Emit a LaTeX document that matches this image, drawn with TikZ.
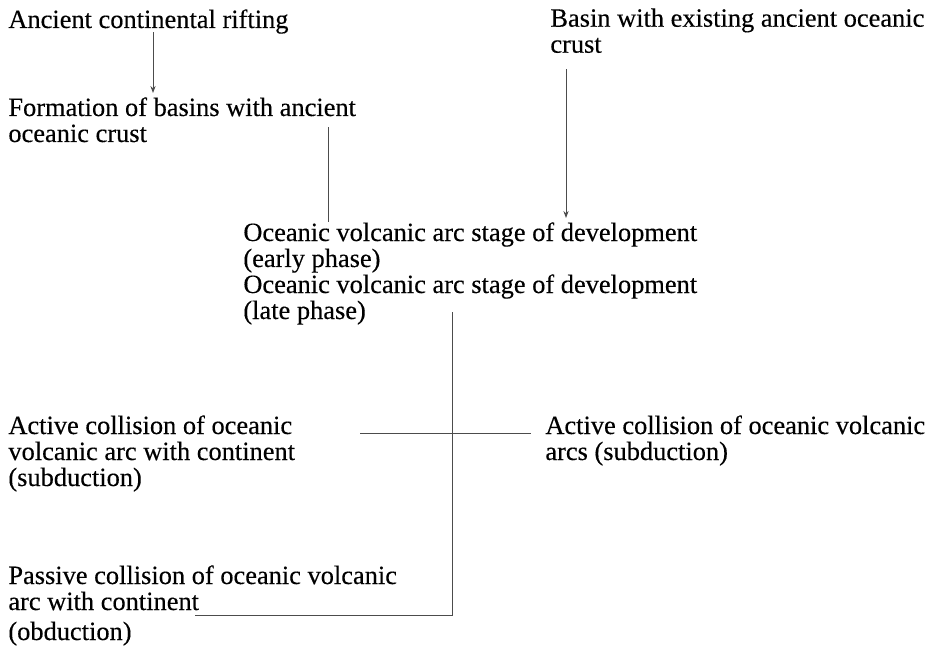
\documentclass[tikz,border=0pt]{standalone}
\usepackage{fontspec}
\setmainfont[FakeBold=0.3]{Liberation Serif}
\usetikzlibrary{arrows.meta, calc, positioning}
\tikzset{
    stage/.style={anchor=north west, inner sep=0pt, align=left, font=\fontsize{13.2pt}{13pt}\selectfont},
    link/.style={draw=black!70, line width=0.45pt},
}
\begin{document}
\begin{tikzpicture}[x=0.5pt, y=-0.5pt, >={Stealth[length=3.5pt,width=2.6pt]}]
                        \useasboundingbox (0,0) rectangle (942,655);

                        \node[stage] (rift) at (8,9) {Ancient continental rifting};
                        \node[stage] (formation) at (8,97) {Formation of basins with ancient\\oceanic crust};
                        \node[stage] (basin) at (550,8) {Basin with existing ancient oceanic\\crust};
                        \node[stage] (early) at (243,222) {Oceanic volcanic arc stage of development\\(early phase)};
                        \node[stage] (late) at (243,274) {Oceanic volcanic arc stage of development\\(late phase)};
                        \node[stage] (active) at (8,415) {Active collision of oceanic\\volcanic arc with continent\\(subduction)};
                        \node[stage] (arcs) at (545,415) {Active collision of oceanic volcanic\\arcs (subduction)};
                        \node[stage] (passive) at (8,565) {Passive collision of oceanic volcanic\\arc with continent\\[2pt](obduction)};

                        \coordinate (drop) at ($(late.north west)+(209,38)$);
                        \coordinate (hub) at (452,433);
                        \coordinate (corner) at (452,615);

                        \draw[link, ->] ($(rift.south west)+(145,-2)$) -- ($(formation.north west)+(145,-4)$);
                        \draw[link] ($(formation.north west)+(320,30)$) -- ($(early.north west)+(85,0)$);
                        \draw[link, ->] ($(basin.south west)+(16,16)$) -- ($(early.north west)+(323,-4)$);
                        \draw[link] (drop) -- (corner) -- ($(passive.west |- corner)+(187,0)$);
                        \draw[link] ($(active.west |- hub)+(352,0)$) -- ($(arcs.west |- hub)+(-14,0)$);
                    \end{tikzpicture}
\end{document}
